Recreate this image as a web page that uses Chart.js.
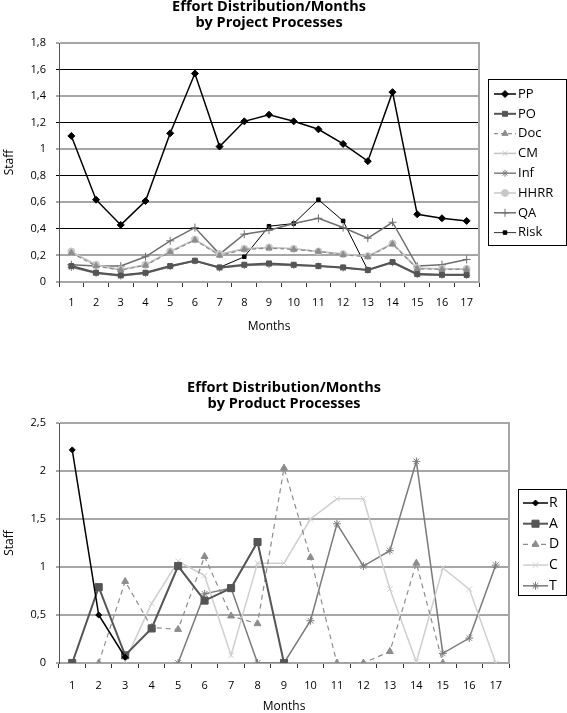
<!DOCTYPE html>
<html><head><meta charset="utf-8">
<script src="https://cdn.jsdelivr.net/npm/chart.js@4.4.1/dist/chart.umd.min.js"></script>
<style>
html,body{margin:0;padding:0;background:#fff;}
#c1{position:absolute;left:0;top:0;}
#c2{position:absolute;left:0;top:345px;}
</style></head><body>
<canvas id="c1" width="567" height="345"></canvas>
<canvas id="c2" width="567" height="368"></canvas>
<script>
// ---- data ----
const months = ['1','2','3','4','5','6','7','8','9','10','11','12','13','14','15','16','17'];
const yTicksTop = ['0','0,2','0,4','0,6','0,8','1','1,2','1,4','1,6','1,8'];
const yTicksBottom = ['0','0,5','1','1,5','2','2,5'];

const ppValues   = [1.10, 0.62, 0.43, 0.61, 1.12, 1.57, 1.02, 1.21, 1.26, 1.21, 1.15, 1.04, 0.91, 1.43, 0.51, 0.48, 0.46];
const poValues   = [0.12, 0.07, 0.05, 0.07, 0.12, 0.16, 0.11, 0.13, 0.14, 0.13, 0.12, 0.11, 0.09, 0.15, 0.06, 0.055, 0.055];
const docValues  = [0.22, 0.12, 0.09, 0.125, 0.225, 0.315, 0.20, 0.245, 0.255, 0.245, 0.23, 0.205, 0.19, 0.285, 0.10, 0.095, 0.095];
const cmValues   = [0.225, 0.125, 0.09, 0.13, 0.23, 0.32, 0.205, 0.25, 0.26, 0.25, 0.23, 0.21, 0.19, 0.29, 0.10, 0.10, 0.095];
const infValues  = [0.11, 0.065, 0.045, 0.065, 0.115, 0.16, 0.105, 0.125, 0.13, 0.125, 0.12, 0.105, 0.09, 0.145, 0.055, 0.05, 0.05];
const hhrrValues = [0.23, 0.13, 0.095, 0.13, 0.23, 0.32, 0.21, 0.25, 0.26, 0.25, 0.23, 0.21, 0.195, 0.29, 0.105, 0.10, 0.10];
const qaValues   = [0.13, 0.12, 0.12, 0.19, 0.31, 0.41, 0.21, 0.36, 0.39, 0.44, 0.48, 0.41, 0.33, 0.45, 0.12, 0.13, 0.17];
const riskValues = [0.12, 0.07, 0.05, 0.07, 0.12, 0.16, 0.11, 0.19, 0.42, 0.44, 0.62, 0.46, 0.09, 0.15, 0.06, 0.055, 0.05];

const rValues = [2.22, 0.50, 0.06, null, null, null, null, null, null, null, null, null, null, null, null, null, null];
const aValues = [0, 0.79, 0.08, 0.36, 1.01, 0.65, 0.78, 1.26, 0, null, null, null, null, null, null, null, null];
const dValues = [null, 0, 0.85, 0.37, 0.35, 1.11, 0.49, 0.41, 2.03, 1.10, 0, 0, 0.12, 1.04, 0, null, null];
const cValues = [null, null, 0.02, 0.62, 1.06, 0.91, 0.08, 1.04, 1.04, 1.50, 1.71, 1.71, 0.77, 0.01, 0.99, 0.77, 0];
const tValues = [null, null, null, null, 0, 0.72, 0.78, 0, 0, 0.44, 1.45, 1.01, 1.17, 2.10, 0.10, 0.26, 1.02];

// ---- helpers ----
const FONT = 'Open Sans';
const GRAY = '#a6a6a6';

function ds(label, data, color, style, radius, width, dash, legendLine) {
  return {
    label, data,
    borderColor: color, backgroundColor: color,
    pointBackgroundColor: color, pointBorderColor: color,
    pointStyle: style, pointRadius: radius, pointHoverRadius: radius,
    pointBorderWidth: 1, borderWidth: width, borderDash: dash || [],
    tension: 0, spanGaps: false, legendLine: legendLine || color
  };
}

const lineLegend = {
  id: 'lineLegend',
  afterDraw(chart, args, o) {
    const ctx = chart.ctx;
    ctx.save();
    ctx.strokeStyle = '#000'; ctx.lineWidth = 1; ctx.setLineDash([]);
    ctx.strokeRect(o.x + 0.5, o.y + 0.5, o.w, o.h);
    chart.data.datasets.forEach((d, i) => {
      const cy = o.y + o.first + i * o.step;
      ctx.beginPath();
      ctx.setLineDash(d.borderDash || []);
      ctx.strokeStyle = d.legendLine; ctx.lineWidth = d.borderWidth;
      ctx.moveTo(o.x + o.l1, cy); ctx.lineTo(o.x + o.l2, cy); ctx.stroke();
      ctx.setLineDash([]);
      ctx.fillStyle = d.pointBackgroundColor; ctx.strokeStyle = d.pointBorderColor; ctx.lineWidth = 1;
      Chart.helpers.drawPoint(ctx, {pointStyle: d.pointStyle, radius: d.pointRadius, borderWidth: 1, rotation: 0}, o.x + (o.l1 + o.l2) / 2, cy);
      ctx.fillStyle = '#000'; ctx.font = o.font; ctx.textBaseline = 'middle'; ctx.textAlign = 'left';
      ctx.fillText(d.label, o.x + o.tx, cy);
    });
    ctx.restore();
  }
};

function rightFrame(max) {
  return {
    position: 'right', min: 0, max: max, display: true,
    ticks: {display: false}, grid: {display: false, drawTicks: false},
    border: {display: true, color: GRAY, width: 2},
    afterFit(s) { s.width = 0; }
  };
}

// ---- chart 1 ----
new Chart(document.getElementById('c1'), {
  type: 'line',
  data: {
    labels: months,
    datasets: [
      ds('PP', ppValues, '#000000', 'rectRot', 3.5, 1.5),
      ds('PO', poValues, '#555555', 'rect', 3.5, 2),
      ds('Doc', docValues, '#8c8c8c', 'triangle', 3.5, 1.2, [4, 3]),
      ds('CM', cmValues, '#c4c4c4', 'crossRot', 3.5, 1.5),
      ds('Inf', infValues, '#7f7f7f', 'star', 3.5, 1.5),
      ds('HHRR', hhrrValues, '#c8c8c8', 'circle', 3.5, 1.5),
      ds('QA', qaValues, '#6e6e6e', 'cross', 4, 1.5),
      ds('Risk', riskValues, '#000000', 'rect', 2.5, 1, [], '#333333')
    ]
  },
  options: {
    responsive: false, animation: false,
    layout: {padding: {left: 0, right: 88, top: 0, bottom: 0}},
    plugins: {
      legend: {display: false}, tooltip: {enabled: false},
      title: {display: true, fullSize: false, text: ['Effort Distribution/Months', 'by Project Processes'],
        color: '#000', font: {family: FONT, size: 14.5, weight: 'bold', lineHeight: '16px'},
        padding: {top: -1, bottom: 12}},
      lineLegend: {x: 488, y: 79, w: 78, h: 166, first: 15, step: 19.8, l1: 6, l2: 28, tx: 30, font: '13px "Open Sans"'}
    },
    scales: {
      x: {
        offset: true,
        grid: {display: true, drawOnChartArea: false, drawTicks: true, tickLength: 5, tickColor: '#333', offset: true},
        border: {display: true, color: GRAY, width: 2},
        ticks: {font: {family: FONT, size: 11}, color: '#000', padding: 9, maxRotation: 0, autoSkip: false},
        title: {display: true, text: 'Months', color: '#000', font: {family: FONT, size: 12}, padding: {top: 0, bottom: 11}},
        afterFit(s) { s.height = 63; }
      },
      y: {
        min: 0, max: 1.8,
        ticks: {stepSize: 0.2, callback: (v, i) => yTicksTop[i], font: {family: FONT, size: 11}, color: '#000', padding: 10},
        grid: {
          color: c => (c.index > 0 && c.index < 9 && c.index % 2 === 0) ? '#000' : GRAY,
          lineWidth: c => (c.index > 0 && c.index < 9 && c.index % 2 === 0) ? 1 : 2,
          tickLength: 3
        },
        border: {display: true, color: '#555', width: 1},
        title: {display: true, text: 'Staff', color: '#000', font: {family: FONT, size: 12}, padding: {top: 2, bottom: 0}},
        afterFit(s) { s.width = 59; }
      },
      y2: rightFrame(1.8)
    }
  },
  plugins: [lineLegend]
});

// ---- chart 2 ----
new Chart(document.getElementById('c2'), {
  type: 'line',
  data: {
    labels: months,
    datasets: [
      ds('R', rValues, '#000000', 'rectRot', 3, 1.5),
      ds('A', aValues, '#555555', 'rect', 5, 2),
      ds('D', dValues, '#8c8c8c', 'triangle', 4, 1.2, [5, 4]),
      ds('C', cValues, '#cfcfcf', 'crossRot', 4, 1.5),
      ds('T', tValues, '#7a7a7a', 'star', 4, 1.5)
    ]
  },
  options: {
    responsive: false, animation: false,
    layout: {padding: {left: 0, right: 58, top: 35, bottom: 0}},
    plugins: {
      legend: {display: false}, tooltip: {enabled: false},
      title: {display: true, fullSize: false, text: ['Effort Distribution/Months', 'by Product Processes'],
        color: '#000', font: {family: FONT, size: 14.5, weight: 'bold', lineHeight: '16px'},
        padding: {top: 0, bottom: 11}},
      lineLegend: {x: 518, y: 144, w: 48, h: 106, first: 14, step: 20.7, l1: 5, l2: 30, tx: 31, font: '14px "Open Sans"'}
    },
    scales: {
      x: {
        offset: true,
        grid: {display: true, drawOnChartArea: false, drawTicks: true, tickLength: 5, tickColor: '#333', offset: true},
        border: {display: true, color: GRAY, width: 2},
        ticks: {font: {family: FONT, size: 11}, color: '#000', padding: 11, maxRotation: 0, autoSkip: false},
        title: {display: true, text: 'Months', color: '#000', font: {family: FONT, size: 12, lineHeight: '12px'}, padding: {top: 0, bottom: 0}},
        afterFit(s) { s.height = 50; }
      },
      y: {
        min: 0, max: 2.5,
        ticks: {stepSize: 0.5, callback: (v, i) => yTicksBottom[i], font: {family: FONT, size: 11}, color: '#000', padding: 10},
        grid: {color: GRAY, lineWidth: 2, tickLength: 3},
        border: {display: true, color: '#555', width: 1},
        title: {display: true, text: 'Staff', color: '#000', font: {family: FONT, size: 12}, padding: {top: 2, bottom: 0}},
        afterFit(s) { s.width = 59; }
      },
      y2: rightFrame(2.5)
    }
  },
  plugins: [lineLegend]
});
</script>
</body></html>
